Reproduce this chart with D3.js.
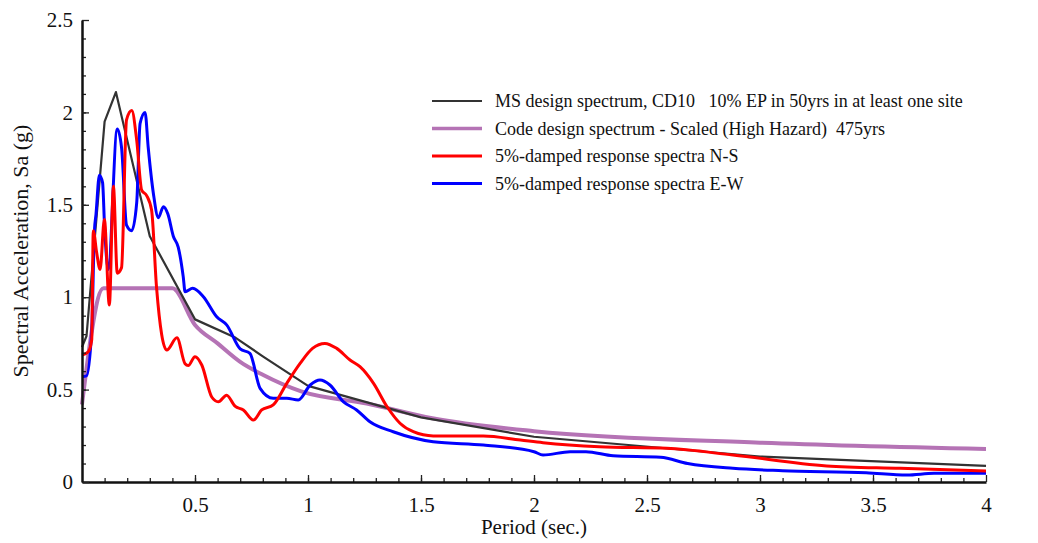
<!DOCTYPE html>
<html>
<head>
<meta charset="utf-8">
<script src="https://cdn.jsdelivr.net/npm/d3@7"></script>
<style>
  body { margin: 0; background: #fff; }
  svg { display: block; font-family: "Liberation Serif", "Times New Roman", serif; }
</style>
</head>
<body>
<div id="chart"></div>
<script>
// series: [period (s), Sa (g)]
const msDesign = [[0, 0.73], [0.02, 0.79], [0.1, 1.95], [0.15, 2.11], [0.3, 1.33], [0.5, 0.88],
  [0.68, 0.78], [0.8, 0.68], [1.0, 0.52], [1.5, 0.35], [2.0, 0.245], [3.0, 0.138], [4.0, 0.087]];

const codeDesign = [[0, 0.42], [0.095, 1.048], [0.4, 1.048], [0.5, 0.85], [0.6, 0.75], [0.7, 0.65],
  [0.8, 0.58], [0.97, 0.49], [1.26, 0.425], [1.55, 0.345], [2.0, 0.275], [3.0, 0.213], [4.0, 0.179]];

const spectraNS = [[0, 0.687], [0.028, 0.705], [0.043, 0.77], [0.05, 1.36], [0.065, 1.24], [0.08, 1.15],
  [0.099, 1.42], [0.121, 0.958], [0.139, 1.6], [0.156, 1.13], [0.175, 1.16], [0.197, 1.96], [0.22, 2.01],
  [0.242, 1.85], [0.264, 1.58], [0.286, 1.55], [0.308, 1.47], [0.33, 1.05], [0.375, 0.714], [0.42, 0.78],
  [0.456, 0.64], [0.47, 0.63], [0.5, 0.678], [0.53, 0.633], [0.574, 0.46], [0.603, 0.434], [0.64, 0.47],
  [0.677, 0.41], [0.714, 0.39], [0.758, 0.335], [0.795, 0.39], [0.846, 0.417], [0.906, 0.534],
  [0.965, 0.642], [1.02, 0.723], [1.075, 0.75], [1.127, 0.723], [1.186, 0.66], [1.23, 0.624],
  [1.29, 0.534], [1.35, 0.407], [1.407, 0.318], [1.466, 0.272], [1.554, 0.249], [1.776, 0.249],
  [1.94, 0.227], [2.04, 0.213], [2.29, 0.191], [2.587, 0.182], [2.88, 0.146], [3.295, 0.087],
  [3.62, 0.074], [4.0, 0.06]];

const spectraEW = [[0, 0.57], [0.02, 0.574], [0.043, 0.82], [0.055, 1.36], [0.062, 1.45], [0.077, 1.66],
  [0.091, 1.62], [0.1, 1.38], [0.116, 1.15], [0.156, 1.91], [0.175, 1.81], [0.197, 1.39], [0.22, 1.36],
  [0.242, 1.51], [0.257, 1.94], [0.279, 2.0], [0.293, 1.81], [0.316, 1.56], [0.338, 1.43], [0.36, 1.49],
  [0.38, 1.45], [0.404, 1.33], [0.426, 1.27], [0.448, 1.11], [0.456, 1.03], [0.49, 1.048], [0.537, 1.003],
  [0.596, 0.894], [0.64, 0.85], [0.7, 0.72], [0.743, 0.696], [0.788, 0.507], [0.846, 0.453],
  [0.906, 0.453], [0.957, 0.444], [1.01, 0.525], [1.053, 0.552], [1.097, 0.525], [1.156, 0.435],
  [1.215, 0.39], [1.274, 0.326], [1.377, 0.272], [1.554, 0.218], [1.776, 0.2], [2.0, 0.164],
  [2.04, 0.146], [2.16, 0.164], [2.23, 0.164], [2.35, 0.142], [2.56, 0.134], [2.68, 0.1], [2.88, 0.074],
  [3.1, 0.061], [3.47, 0.05], [3.65, 0.038], [3.77, 0.047], [4.0, 0.047]];

const xTickLabels = [0.5, 1, 1.5, 2, 2.5, 3, 3.5, 4];
const yTickLabels = [0, 0.5, 1, 1.5, 2, 2.5];

const legendNames = [
  'MS design spectrum, CD10   10% EP in 50yrs in at least one site',
  'Code design spectrum - Scaled (High Hazard)  475yrs',
  '5%-damped response spectra N-S',
  '5%-damped response spectra E-W'
];

const width = 1038, height = 543;
const margin = { left: 82, top: 20, right: 52, bottom: 61 };
const innerWidth = width - margin.left - margin.right;
const innerHeight = height - margin.top - margin.bottom;

const svg = d3.select('#chart')
  .append('svg')
  .attr('width', width)
  .attr('height', height);

const g = svg.append('g')
  .attr('transform', `translate(${margin.left},${margin.top})`);

const x = d3.scaleLinear().domain([0, 4]).range([0, innerWidth]);
const y = d3.scaleLinear().domain([0, 2.5]).range([innerHeight, 0]);

// lines first so the axes sit on top
const series = [
  { data: codeDesign, color: '#b573b5', width: 4, curve: d3.curveMonotoneX },
  { data: msDesign, color: '#333333', width: 2.2, curve: d3.curveLinear },
  { data: spectraEW, color: '#0000ff', width: 3, curve: d3.curveMonotoneX },
  { data: spectraNS, color: '#ff0000', width: 3, curve: d3.curveMonotoneX }
];

series.forEach(s => {
  g.append('path')
    .datum(s.data)
    .attr('fill', 'none')
    .attr('stroke', s.color)
    .attr('stroke-width', s.width)
    .attr('stroke-linejoin', 'round')
    .attr('d', d3.line().x(d => x(d[0])).y(d => y(d[1])).curve(s.curve));
});

//minor ticks every 0.1, pointing inwards
g.append('g')
  .attr('transform', `translate(0,${innerHeight})`)
  .call(d3.axisBottom(x).tickValues(d3.range(1, 40).map(i => i / 10)).tickSizeInner(-4).tickSizeOuter(0).tickFormat(''))
  .call(a => a.select('.domain').remove())
  .call(a => a.selectAll('.tick text').remove());
g.append('g')
  .call(d3.axisLeft(y).tickValues(d3.range(1, 25).map(i => i / 10)).tickSizeInner(-4).tickSizeOuter(0).tickFormat(''))
  .call(a => a.select('.domain').remove())
  .call(a => a.selectAll('.tick text').remove());

//x axis
const xAxis = g.append('g')
  .attr('transform', `translate(0,${innerHeight})`)
  .call(d3.axisBottom(x).tickValues(xTickLabels).tickSizeInner(-7).tickSizeOuter(0).tickPadding(15).tickFormat(d3.format('')));

//y axis
const yAxis = g.append('g')
  .call(d3.axisLeft(y).tickValues(yTickLabels).tickSizeInner(-7).tickSizeOuter(0).tickPadding(9).tickFormat(d3.format('')));

[xAxis, yAxis].forEach(a => {
  a.attr('font-family', '"Liberation Serif", serif').attr('font-size', 21);
  a.select('.domain').attr('stroke', '#111').attr('stroke-width', 2.5);
  a.selectAll('.tick text').attr('fill', '#111');
});
g.selectAll('.tick line').attr('stroke', '#222').attr('stroke-width', 1.3);

//x axis title
g.append('text')
  .attr('text-anchor', 'middle')
  .attr('x', innerWidth / 2)
  .attr('y', innerHeight + 52)
  .attr('font-size', 21)
  .attr('fill', '#111')
  .text('Period (sec.)');

//y axis title
g.append('text')
  .attr('text-anchor', 'middle')
  .attr('transform', `translate(${-margin.left + 28},${innerHeight / 2}) rotate(-90)`)
  .attr('font-size', 22)
  .attr('fill', '#111')
  .text('Spectral Acceleration, Sa (g)');

//legend
const legend = svg.append('g').attr('transform', 'translate(432,101)');
const legendColors = ['#333333', '#b573b5', '#ff0000', '#0000ff'];
const legendWidths = [2, 3.5, 3, 3];
legendNames.forEach((name, i) => {
  const row = legend.append('g').attr('transform', `translate(0,${i * 27.5})`);
  row.append('line')
    .attr('x1', 0).attr('x2', 50)
    .attr('stroke', legendColors[i])
    .attr('stroke-width', legendWidths[i]);
  row.append('text')
    .attr('x', 63)
    .attr('dy', '0.35em')
    .attr('font-size', 18)
    .attr('fill', '#111')
    .style('white-space', 'pre')
    .text(name);
});
</script>
</body>
</html>
